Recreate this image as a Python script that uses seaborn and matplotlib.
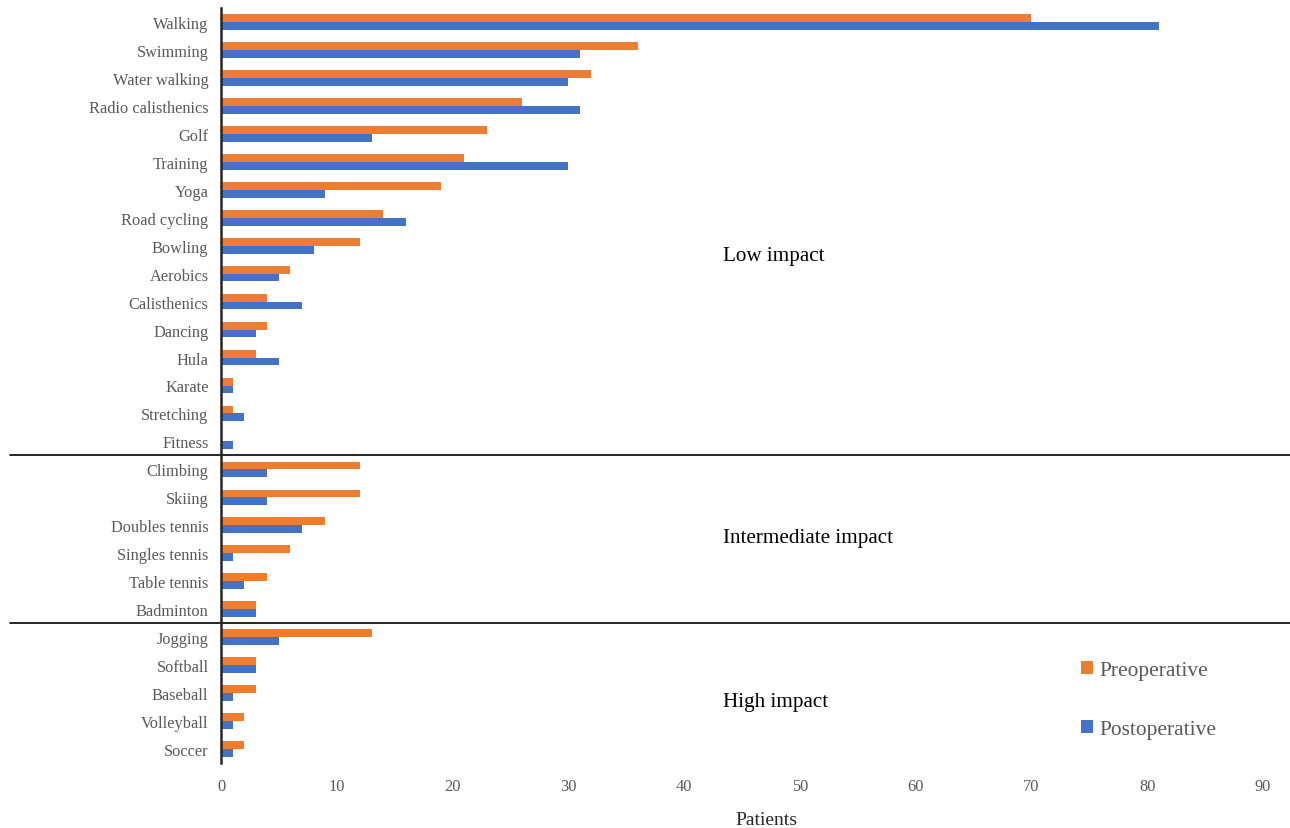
import pandas as pd
import numpy as np
import matplotlib.pyplot as plt
import seaborn as sns

sports = ['Walking', 'Swimming', 'Water walking', 'Radio calisthenics', 'Golf', 'Training',
          'Yoga', 'Road cycling', 'Bowling', 'Aerobics', 'Calisthenics', 'Dancing', 'Hula',
          'Karate', 'Stretching', 'Fitness',
          'Climbing', 'Skiing', 'Doubles tennis', 'Singles tennis', 'Table tennis', 'Badminton',
          'Jogging', 'Softball', 'Baseball', 'Volleyball', 'Soccer']
preop = [70, 36, 32, 26, 23, 21, 19, 14, 12, 6, 4, 4, 3, 1, 1, 0,
         12, 12, 9, 6, 4, 3,
         13, 3, 3, 2, 2]
postop = [81, 31, 30, 31, 13, 30, 9, 16, 8, 5, 7, 3, 5, 1, 2, 1,
          4, 4, 7, 1, 2, 3,
          5, 3, 1, 1, 1]
groups = ['Low impact', 'Intermediate impact', 'High impact']
group_sizes = [16, 6, 5]

df = pd.DataFrame({'Sport': sports * 2,
                   'Patients': preop + postop,
                   'When': ['Preoperative'] * len(sports) + ['Postoperative'] * len(sports)})

sns.set_style('white')
plt.rcParams['font.family'] = ['Liberation Serif', 'DejaVu Serif']

fig = plt.figure(figsize=(12.9, 8.29), dpi=100)
ax = fig.add_axes([221 / 1290, 1 - 764 / 829, (1263 - 221) / 1290, 755 / 829])
sns.barplot(data=df, y='Sport', x='Patients', hue='When', order=sports,
            palette={'Preoperative': '#ED7D31', 'Postoperative': '#4472C4'},
            saturation=1, width=0.56, orient='h', ax=ax, edgecolor='none')
ax.set_xlim(0, 90)
ax.set_ylim(len(sports) - 0.5, -0.5)
ax.set_xticks(range(0, 91, 10))
ax.tick_params(axis='both', length=0, labelsize=11.8, labelcolor='#595959')
ax.tick_params(axis='y', pad=9)
ax.tick_params(axis='x', pad=11)
ax.set_ylabel('')
ax.set_xlabel('Patients', fontsize=14)
ax.xaxis.set_label_coords((766 - 221) / 1042, -0.064)
for s in ['top', 'right', 'bottom']:
    ax.spines[s].set_visible(False)
ax.spines['left'].set_color('#262626')
ax.spines['left'].set_linewidth(1.8)

# group separators and labels
tr = ax.get_yaxis_transform()
label_rows = [8.35, 18.45, 24.3]
start = 0
for g, n, yr in zip(groups, group_sizes, label_rows):
    if start > 0:
        ax.plot([-211 / 1042, 1069 / 1042], [start - 0.5, start - 0.5], color='black',
                lw=1.2, transform=tr, clip_on=False)
    ax.text(43.4, yr, g, fontsize=15.2, va='center', ha='left', color='black')
    start += n

h, l = ax.get_legend_handles_labels()
ax.legend(h, l, loc='center left', bbox_to_anchor=(1062 / 1290, 1 - 701 / 829),
          bbox_transform=fig.transFigure, frameon=False, fontsize=15.4,
          handlelength=0.55, handleheight=0.55, handletextpad=0.3, labelspacing=1.85,
          labelcolor='#595959')

plt.savefig('out.png', dpi=100)
plt.close()
